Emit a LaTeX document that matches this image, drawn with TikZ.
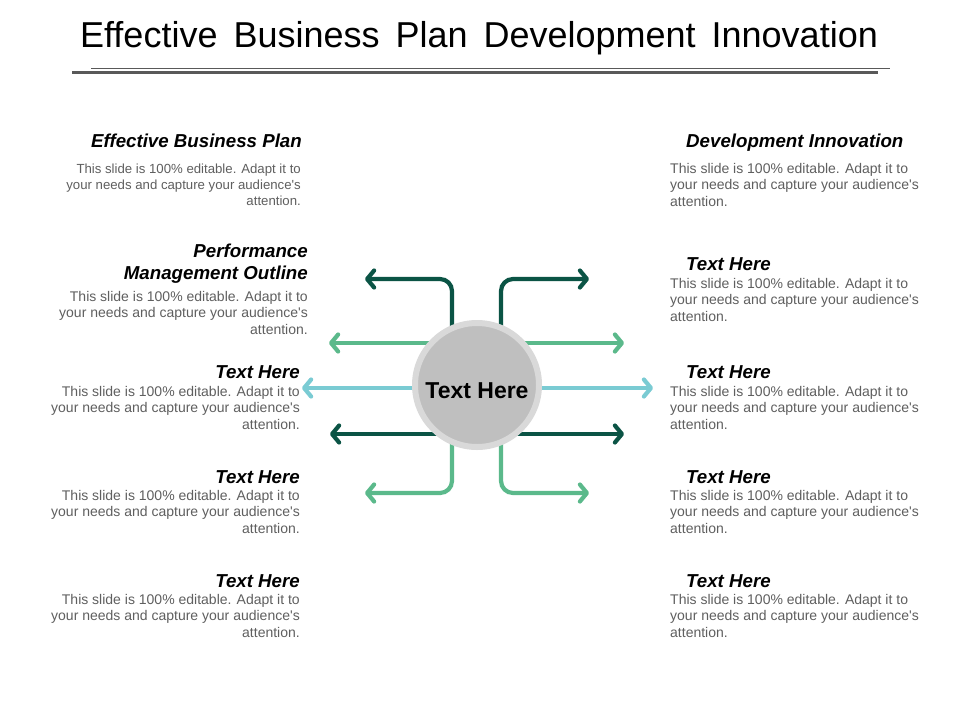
\documentclass[tikz,border=0pt]{standalone}
\usepackage{fontspec}
\setmainfont{Liberation Sans}
\newfontfamily\titlefont[WordSpace=1.6]{Liberation Sans}
\usetikzlibrary{arrows.meta,calc}
\definecolor{dkgreen}{HTML}{0B5445}
\definecolor{mdgreen}{HTML}{5BB98B}
\definecolor{ltblue}{HTML}{7ACBD3}
\definecolor{txtgray}{HTML}{5F5F5F}
\definecolor{ringgray}{HTML}{D9D9D9}
\definecolor{hubgray}{HTML}{BFBFBF}
\definecolor{rulegray}{HTML}{595959}
\newcommand{\bodytxt}{This slide is 100\% editable. Adapt it to\\your needs and capture your audience\textquotesingle s\\attention.}
\begin{document}
\begin{tikzpicture}[x=1pt,y=-1pt,
  conn/.style={line width=4.2pt, rounded corners=12pt, -{Straight Barb[length=7pt,width=17pt,round]}},
  head/.style={font=\fontsize{18.7}{22}\selectfont\bfseries\itshape, inner sep=0pt},
  body/.style={font=\fontsize{14}{16.5}\selectfont, text=txtgray, inner sep=0pt},
  smallbody/.style={font=\fontsize{13.2}{16}\selectfont, text=txtgray, inner sep=0pt},
  lft/.style={anchor=base east, align=right},
  rgt/.style={anchor=base west, align=left}]
\useasboundingbox[fill=white] (0,0) rectangle (960,720);

% title
\node[anchor=base, inner sep=0pt, font=\titlefont\fontsize{36}{40}\selectfont] (title) at (479,47) {Effective Business Plan Development Innovation};
\coordinate (r1a) at (91,68); \coordinate (r1b) at (890,68);
\coordinate (r2a) at (72,72.5); \coordinate (r2b) at (878,72.5);
\draw[rulegray, line width=1pt] (r1a) -- (r1b);
\draw[rulegray, line width=2.2pt] (r2a) -- (r2b);

% arrows
\coordinate (c) at (477,385);
\coordinate (tl) at (365,279);
\coordinate (tr) at (589,279);
\coordinate (ml) at (329,343);
\coordinate (mr) at (624,343);
\coordinate (bl) at (302,388);
\coordinate (br) at (653,388);
\coordinate (dl) at (330,434);
\coordinate (dr) at (624,434);
\coordinate (ll) at (365,493);
\coordinate (lr) at (589,493);

\draw[conn, dkgreen] ($(c)+(-25,0)$) |- (tl);
\draw[conn, dkgreen] ($(c)+(24,0)$) |- (tr);
\draw[conn, mdgreen] (c |- ml) -- (ml);
\draw[conn, mdgreen] (c |- mr) -- (mr);
\draw[conn, ltblue] (c |- bl) -- (bl);
\draw[conn, ltblue] (c |- br) -- (br);
\draw[conn, dkgreen] (c |- dl) -- (dl);
\draw[conn, dkgreen] (c |- dr) -- (dr);
\draw[conn, mdgreen] ($(c)+(-25,0)$) |- (ll);
\draw[conn, mdgreen] ($(c)+(24,0)$) |- (lr);

\node[circle, fill=hubgray, draw=ringgray, line width=6pt, minimum size=124pt, inner sep=0pt] (hub) at (c) {};
\node[font=\fontsize{23}{26}\selectfont\bfseries, inner sep=0pt] (hubtext) at (477,391) {Text Here};

% left blocks (base anchor = last line baseline)
\node[head, lft] (lh1) at (302,147.7) {Effective Business Plan};
\node[smallbody, lft] (lb1) at (301,205) {\bodytxt};
\node[head, lft] (lh2) at (308,279.7) {Performance\\Management Outline};
\node[body, lft] (lb2) at (308,334) {\bodytxt};
\node[head, lft] (lh3) at (300,378.7) {Text Here};
\node[body, lft] (lb3) at (300,429) {\bodytxt};
\node[head, lft] (lh4) at (300,483.7) {Text Here};
\node[body, lft] (lb4) at (300,533) {\bodytxt};
\node[head, lft] (lh5) at (300,587.7) {Text Here};
\node[body, lft] (lb5) at (300,637) {\bodytxt};

% right blocks
\node[head, rgt] (rh1) at (686,147.7) {Development Innovation};
\node[body, rgt] (rb1) at (670,206) {\bodytxt};
\node[head, rgt] (rh2) at (686,270.7) {Text Here};
\node[body, rgt] (rb2) at (670,321) {\bodytxt};
\node[head, rgt] (rh3) at (686,378.7) {Text Here};
\node[body, rgt] (rb3) at (670,429) {\bodytxt};
\node[head, rgt] (rh4) at (686,483.7) {Text Here};
\node[body, rgt] (rb4) at (670,533) {\bodytxt};
\node[head, rgt] (rh5) at (686,587.7) {Text Here};
\node[body, rgt] (rb5) at (670,637) {\bodytxt};
\end{tikzpicture}
\end{document}
